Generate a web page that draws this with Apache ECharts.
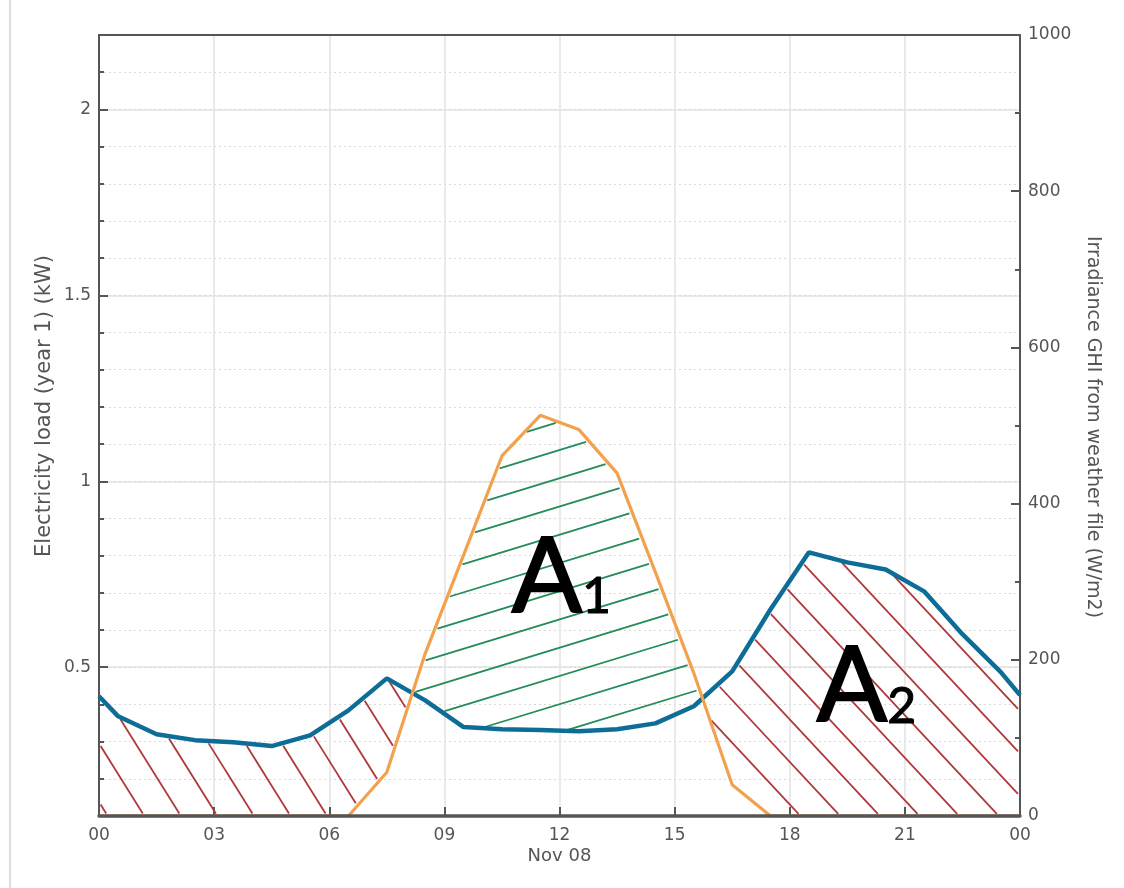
<!DOCTYPE html>
<html>
<head>
<meta charset="utf-8">
<script src="https://cdn.jsdelivr.net/npm/echarts@6/dist/echarts.min.js"></script>
<style>
  html, body { margin: 0; padding: 0; background: #ffffff; }
  #chart { width: 1124px; height: 888px; }
</style>
</head>
<body>
<div id="chart"></div>
<script>
// Hourly readings for Nov 08, plotted at the half hour, plus both day edges
const hours = [0, 0.5, 1.5, 2.5, 3.5, 4.5, 5.5, 6.5, 7.5, 8.5, 9.5, 10.5, 11.5,
  12.5, 13.5, 14.5, 15.5, 16.5, 17.5, 18.5, 19.5, 20.5, 21.5, 22.5, 23.5, 24];

// Electricity load, year 1 (kW)
const loadKW = [0.422, 0.368, 0.320, 0.304, 0.298, 0.288, 0.317, 0.384, 0.470,
  0.411, 0.339, 0.333, 0.331, 0.328, 0.333, 0.349, 0.395, 0.489, 0.656, 0.809,
  0.782, 0.763, 0.704, 0.589, 0.487, 0.425];

// Global horizontal irradiance from the weather file (W/m2)
const ghiWm2 = [0, 0, 0, 0, 0, 0, 0, 0, 56, 208, 334, 461, 513, 495, 439, 312,
  183, 40, 0, 0, 0, 0, 0, 0, 0, 0];

// Axis tick labels
const hourTicks = [0, 3, 6, 9, 12, 15, 18, 21, 24];
const loadTicks = [0.5, 1, 1.5, 2];
const ghiTicks = [0, 200, 400, 600, 800, 1000];
const dayLabel = 'Nov 08';

// Area annotations: surplus solar (A1) and uncovered load (A2)
const areaNames = ['A', 'A'];
const areaIndices = ['1', '2'];
const areaAnchors = [[12.05, 0.74], [20.0, 0.445]];

const LOAD_MIN = 0.1, LOAD_MAX = 2.2, GHI_MAX = 1000;

// Hatch styles (angle in degrees, clockwise from horizontal; spacing in px)
const HATCH_UNCOVERED_AM = { color: '#b0393e', angle: 58, spacing: 31, width: 1.8 };
const HATCH_UNCOVERED_PM = { color: '#b0393e', angle: 47, spacing: 29, width: 1.8 };
const HATCH_SURPLUS = { color: '#228c58', angle: -17, spacing: 27, width: 1.8 };
const HATCH_INSET = 3;

// Irradiance expressed in load-axis units, so both curves share one pixel space
function ghiOnLoadScale(g) {
  return LOAD_MIN + g * (LOAD_MAX - LOAD_MIN) / GHI_MAX;
}

// Both curves on a common x grid, with the crossing points inserted
function mergedCurves() {
  const xs = [], b = [], o = [];
  for (let i = 0; i < hours.length; i++) {
    const bi = loadKW[i], oi = ghiOnLoadScale(ghiWm2[i]);
    if (i > 0) {
      const d0 = loadKW[i - 1] - ghiOnLoadScale(ghiWm2[i - 1]);
      const d1 = bi - oi;
      if (d0 * d1 < 0) {
        const t = d0 / (d0 - d1);
        const x = hours[i - 1] + t * (hours[i] - hours[i - 1]);
        const v = loadKW[i - 1] + t * (bi - loadKW[i - 1]);
        xs.push(x); b.push(v); o.push(v);
      }
    }
    xs.push(hours[i]); b.push(bi); o.push(oi);
  }
  return { xs, b, o };
}

// Split a band (top/bottom per x) into closed polygons, one per contiguous run
function bandPolygons(xs, top, bottom) {
  const polys = [];
  const eps = 1e-9;
  let k = 0;
  while (k < xs.length) {
    if (top[k] - bottom[k] <= eps) { k++; continue; }
    let s = Math.max(k - 1, 0), e = k;
    while (e + 1 < xs.length && top[e + 1] - bottom[e + 1] > eps) e++;
    e = Math.min(e + 1, xs.length - 1);
    const upper = [], lower = [];
    for (let j = s; j <= e; j++) {
      upper.push([xs[j], top[j]]);
      lower.push([xs[j], bottom[j]]);
    }
    polys.push({ points: upper.concat(lower.reverse()), midX: (xs[s] + xs[e]) / 2 });
    k = e + 1;
  }
  return polys;
}

function buildRegions() {
  const { xs, b, o } = mergedCurves();
  const lo = xs.map((_, k) => Math.min(o[k], b[k]));
  const hi = xs.map((_, k) => Math.max(o[k], b[k]));
  const regions = [];
  bandPolygons(xs, b, lo).forEach(p => regions.push({
    points: p.points, hatch: p.midX < 12 ? HATCH_UNCOVERED_AM : HATCH_UNCOVERED_PM
  }));
  bandPolygons(xs, hi, b).forEach(p => regions.push({ points: p.points, hatch: HATCH_SURPLUS }));
  return regions;
}

const hatchRegions = buildRegions();

// Parallel hatch lines clipped to a pixel-space polygon
function hatchSegments(poly, h) {
  const a = h.angle * Math.PI / 180;
  const d = [Math.cos(a), Math.sin(a)];
  const n = [-Math.sin(a), Math.cos(a)];
  const proj = p => p[0] * n[0] + p[1] * n[1];
  let cMin = Infinity, cMax = -Infinity;
  poly.forEach(p => { const c = proj(p); cMin = Math.min(cMin, c); cMax = Math.max(cMax, c); });
  const segs = [];
  for (let c = Math.ceil(cMin / h.spacing) * h.spacing; c <= cMax; c += h.spacing) {
    const hits = [];
    for (let i = 0; i < poly.length; i++) {
      const p = poly[i], q = poly[(i + 1) % poly.length];
      const dp = proj(p) - c, dq = proj(q) - c;
      if ((dp > 0) !== (dq > 0)) {
        const t = dp / (dp - dq);
        const x = p[0] + (q[0] - p[0]) * t, y = p[1] + (q[1] - p[1]) * t;
        hits.push([x, y, x * d[0] + y * d[1]]);
      }
    }
    hits.sort((u, v) => u[2] - v[2]);
    for (let j = 0; j + 1 < hits.length; j += 2) {
      const len = hits[j + 1][2] - hits[j][2];
      if (len < 2 * HATCH_INSET + 3) continue;
      const ux = (hits[j + 1][0] - hits[j][0]) / len, uy = (hits[j + 1][1] - hits[j][1]) / len;
      segs.push([
        hits[j][0] + ux * HATCH_INSET, hits[j][1] + uy * HATCH_INSET,
        hits[j + 1][0] - ux * HATCH_INSET, hits[j + 1][1] - uy * HATCH_INSET
      ]);
    }
  }
  return segs;
}

function renderHatch(params, api) {
  const children = [];
  hatchRegions.forEach(region => {
    const poly = region.points.map(p => api.coord(p));
    hatchSegments(poly, region.hatch).forEach(s => children.push({
      type: 'line',
      shape: { x1: s[0], y1: s[1], x2: s[2], y2: s[3] },
      style: { stroke: region.hatch.color, lineWidth: region.hatch.width }
    }));
  });
  return { type: 'group', children: children };
}

const pad2 = v => String(v % 24).padStart(2, '0');
const near = (v, list) => list.some(t => Math.abs(t - v) < 1e-6);

const TICK_FONT = 'DejaVu Sans';
const GRAY = '#555555';

const areaLabel = (i) => ({
  coord: areaAnchors[i],
  value: areaNames[i] + areaIndices[i],
  symbol: 'circle', symbolSize: 1,
  itemStyle: { color: 'rgba(0,0,0,0)' },
  label: {
    show: true, position: 'inside',
    formatter: '{a|' + areaNames[i] + '}{s|' + areaIndices[i] + '}',
    rich: {
      a: { fontFamily: 'Lato', fontSize: 104, lineHeight: 104, color: '#000', verticalAlign: 'bottom',
           textBorderColor: '#000', textBorderWidth: 2 },
      s: { fontFamily: 'Lato', fontSize: 50, lineHeight: 50, color: '#000', verticalAlign: 'bottom',
           padding: [0, 0, 8, 0], textBorderColor: '#000', textBorderWidth: 1 }
    }
  }
});

// Frame edge drawn above the curves (no ticks, labels or grid)
const frameEdge = (position, width) => ({
  type: 'value', position: position, min: 0, max: 24, interval: 3, z: 10,
  axisLine: { show: true, onZero: false, lineStyle: { color: GRAY, width: width } },
  axisTick: { show: false }, axisLabel: { show: false }, splitLine: { show: false }
});

const chart = echarts.init(document.getElementById('chart'), null, { renderer: 'canvas' });

chart.setOption({
  animation: false,
  backgroundColor: '#ffffff',
  grid: { left: 99, right: 104, top: 35, bottom: 72 },
  xAxis: [
    {
      type: 'value', position: 'bottom', min: 0, max: 24, interval: 3,
      axisLine: { show: true, onZero: false, lineStyle: { color: GRAY, width: 2 } },
      axisTick: { show: true, inside: true, length: 9, lineStyle: { color: GRAY, width: 2 } },
      axisLabel: {
        color: GRAY, fontFamily: TICK_FONT, fontSize: 17, margin: 9, lineHeight: 21,
        showMinLabel: true, showMaxLabel: true,
        formatter: v => near(v, hourTicks) ? (v === 12 ? pad2(v) + '\n{d|' + dayLabel + '}' : pad2(v)) : '',
        rich: { d: { color: GRAY, fontFamily: TICK_FONT, fontSize: 18, lineHeight: 21 } }
      },
      splitLine: { show: true, lineStyle: { color: '#e3e3e3', width: 1.5 } }
    },
    frameEdge('top', 2),
    frameEdge('bottom', 3.5)
  ],
  yAxis: [
    {
      // load axis: labelled ticks and solid grid every 0.5 kW
      type: 'value', position: 'left', min: LOAD_MIN, max: LOAD_MAX, interval: 0.1,
      axisLine: { show: true, onZero: false, lineStyle: { color: GRAY, width: 2 } },
      axisTick: { show: true, inside: true, length: 9, customValues: loadTicks, lineStyle: { color: GRAY, width: 2 } },
      axisLabel: { color: GRAY, fontFamily: TICK_FONT, fontSize: 17, margin: 8, customValues: loadTicks },
      splitLine: { show: true, lineStyle: { color: '#e3e3e3', width: 1.5 } }
    },
    {
      // load axis: minor ticks and dotted grid every 0.1 kW
      type: 'value', position: 'left', min: LOAD_MIN, max: LOAD_MAX, interval: 0.1,
      axisLine: { show: false, onZero: false },
      axisTick: { show: true, inside: true, length: 5, lineStyle: { color: GRAY, width: 2 } },
      axisLabel: { show: false },
      splitLine: { show: true, lineStyle: { color: '#d9d9d9', width: 1, type: [2, 3] } }
    },
    {
      // irradiance axis
      type: 'value', position: 'right', min: 0, max: GHI_MAX, interval: 200,
      axisLine: { show: true, onZero: false, lineStyle: { color: GRAY, width: 2 } },
      axisTick: { show: true, inside: true, length: 9, lineStyle: { color: GRAY, width: 2 } },
      minorTick: { show: true, splitNumber: 2, length: 5, lineStyle: { color: GRAY, width: 2 } },
      axisLabel: {
        color: GRAY, fontFamily: TICK_FONT, fontSize: 17, margin: 8,
        showMinLabel: true, showMaxLabel: true,
        formatter: v => near(v, ghiTicks) ? String(v) : ''
      },
      splitLine: { show: false }
    }
  ],
  graphic: [
    {
      type: 'line', silent: true, z: 0,
      shape: { x1: 10, y1: 0, x2: 10, y2: 888 },
      style: { stroke: '#dddddd', lineWidth: 2 }
    },
    {
      type: 'text', silent: true, x: 45, y: 406, rotation: Math.PI / 2,
      style: {
        text: 'Electricity load (year 1) (kW)', fill: GRAY,
        font: '21px "DejaVu Sans"', align: 'center', verticalAlign: 'middle'
      }
    },
    {
      type: 'text', silent: true, x: 1093, y: 427, rotation: -Math.PI / 2,
      style: {
        text: 'Irradiance GHI from weather file (W/m2)', fill: GRAY,
        font: '19px "DejaVu Sans"', align: 'center', verticalAlign: 'middle'
      }
    }
  ],
  series: [
    {
      name: 'hatching', type: 'custom', coordinateSystem: 'cartesian2d',
      xAxisIndex: 0, yAxisIndex: 0, z: 2, silent: true,
      data: [[0, LOAD_MIN]], renderItem: renderHatch
    },
    {
      name: 'Electricity load', type: 'line', xAxisIndex: 0, yAxisIndex: 0, z: 4,
      symbol: 'none', data: hours.map((h, i) => [h, loadKW[i]]),
      lineStyle: { color: '#0d6d97', width: 4.5 },
      markPoint: { silent: true, data: [areaLabel(0), areaLabel(1)] }
    },
    {
      name: 'Irradiance GHI', type: 'line', xAxisIndex: 0, yAxisIndex: 2, z: 5,
      symbol: 'none', data: hours.map((h, i) => [h, ghiWm2[i]]),
      lineStyle: { color: '#f2a24e', width: 3.2 }
    }
  ]
});
</script>
</body>
</html>
